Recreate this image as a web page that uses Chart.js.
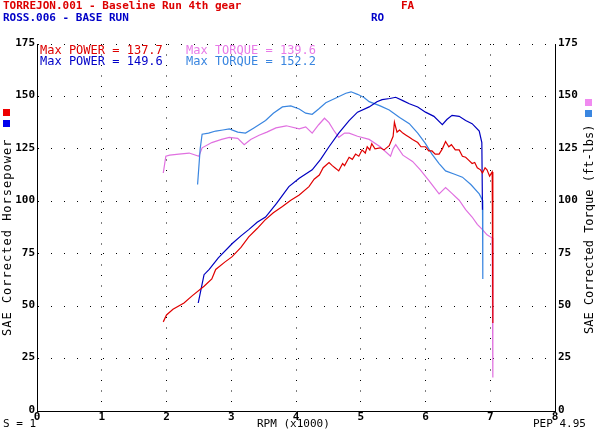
<!DOCTYPE html>
<html>
<head>
<meta charset="utf-8">
<script src="https://cdn.jsdelivr.net/npm/chart.js@4.4.1/dist/chart.umd.min.js"></script>
<style>
body{margin:0;background:#fff;}
#marco{position:relative;width:595px;height:435px;}
#grafica{position:absolute;left:0;top:0;}
.txt{position:absolute;font-family:"DejaVu Sans Mono",monospace;white-space:nowrap;line-height:12px;}
.b{font-weight:bold;}
.cuadro{position:absolute;width:7px;height:7px;}
.rot{position:absolute;transform-origin:0 0;transform:rotate(-90deg);font-family:"DejaVu Sans Mono",monospace;font-size:12px;line-height:12px;white-space:nowrap;}
</style>
</head>
<body>
<div id="marco">
<canvas id="grafica" width="595" height="435"></canvas>

<div class="txt b" style="left:3px;top:0px;font-size:11px;color:#dd0000">TORREJON.001 - Baseline Run 4th gear</div>
<div class="txt b" style="left:3px;top:12px;font-size:11px;color:#0000c8">ROSS.006 - BASE RUN</div>
<div class="txt b" style="left:401px;top:0px;font-size:11px;color:#dd0000">FA</div>
<div class="txt b" style="left:371px;top:12px;font-size:11px;color:#0000c8">RO</div>

<div class="txt" style="left:40px;top:44px;font-size:12px;color:#dd0000">Max POWER = 137.7</div>
<div class="txt" style="left:40px;top:55px;font-size:12px;color:#0000c8">Max POWER = 149.6</div>
<div class="txt" style="left:186px;top:44px;font-size:12px;color:#e87ae8">Max TORQUE = 139.6</div>
<div class="txt" style="left:186px;top:55px;font-size:12px;color:#3a86e0">Max TORQUE = 152.2</div>

<div class="cuadro" style="left:3px;top:109px;background:#ee0000"></div>
<div class="cuadro" style="left:3px;top:120px;background:#0000ee"></div>
<div class="cuadro" style="left:585px;top:99px;background:#f08af0"></div>
<div class="cuadro" style="left:585px;top:110px;background:#3a86e0"></div>

<div class="rot" style="left:1px;top:336px;letter-spacing:1px">SAE Corrected Horsepower</div>
<div class="rot" style="left:583px;top:334px;">SAE Corrected Torque (ft-lbs)</div>

<div class="txt" style="left:3px;top:418px;font-size:11px">S = 1</div>
<div class="txt" style="left:257px;top:418px;font-size:11px">RPM (x1000)</div>
<div class="txt" style="left:533px;top:418px;font-size:11px">PEP 4.95</div>
</div>

<script>
//DATOS TORREJON.001 (rojo / rosa)
var rpmPotenciaT = [1.95,2.0,2.1,2.27,2.4,2.58,2.7,2.76,2.9,3.01,3.15,3.27,3.4,3.52,3.65,3.79,3.92,4.05,4.2,4.28,4.36,4.42,4.51,4.56,4.6,4.66,4.72,4.75,4.82,4.87,4.92,4.97,5.02,5.07,5.1,5.14,5.17,5.22,5.3,5.36,5.44,5.5,5.52,5.56,5.6,5.65,5.7,5.75,5.8,5.88,5.93,6.0,6.05,6.1,6.15,6.21,6.26,6.31,6.36,6.4,6.46,6.52,6.57,6.62,6.67,6.72,6.76,6.8,6.85,6.88,6.92,6.95,6.99,7.03,7.04];
var hpPotenciaT = [42.5,45.8,48.5,51.5,55,59.5,63,67.5,71,73.5,78,83,87,91,94.5,97.5,100.5,103,107,110.5,112.5,116,118.5,117,116,114.5,118,117,121,120,122.5,121.5,124.5,123,126,124.5,127.5,125,125.5,124.5,126.5,131,137.7,133,134,132.5,131.5,130.5,129.5,128,126,126,124,124,122.5,122.5,125,128.5,126,127,124.5,124.5,121.5,121,119.5,118,118.5,116,115,113.5,116,115,112,114,42];
var rpmTorqueT = [1.95,1.99,2.05,2.19,2.35,2.5,2.55,2.7,2.85,2.97,3.1,3.2,3.3,3.43,3.55,3.69,3.85,4.05,4.15,4.25,4.35,4.44,4.51,4.58,4.66,4.75,4.82,4.95,5.13,5.3,5.46,5.5,5.54,5.65,5.8,5.92,6.05,6.21,6.31,6.4,6.52,6.62,6.72,6.8,6.88,6.95,7.03,7.04];
var lbTorqueT = [113.5,121.5,122,122.5,123,121.5,125.5,128,129.5,130.5,130,127,129.5,131.5,133,135,136,134.5,135.5,132.5,136.5,139.6,137.5,134,130.5,132.5,132.5,131,129.5,126,121.5,125,127,122,119,115,110,103.5,106.5,104,100.5,96,92.5,89,86.5,84,82.5,16];

//DATOS ROSS.006 (azul / celeste)
var rpmPotenciaR = [2.49,2.53,2.58,2.66,2.8,3.02,3.15,3.27,3.4,3.53,3.7,3.89,4.05,4.25,4.38,4.51,4.66,4.82,4.95,5.13,5.25,5.33,5.45,5.54,5.65,5.75,5.88,6.0,6.13,6.26,6.33,6.41,6.52,6.62,6.72,6.83,6.87,6.88];
var hpPotenciaR = [51.5,57.5,65,67.5,73,80,83.5,86.5,90,92.5,99,107,111,115,120,126,132.5,138.5,142.5,145,147.5,148.5,149,149.6,148,146.5,145,142.5,140.5,136.5,139,141,140.5,138.5,137,133.5,128,96];
var rpmTorqueR = [2.48,2.52,2.55,2.65,2.76,2.87,2.97,3.1,3.22,3.35,3.53,3.65,3.79,3.92,4.05,4.15,4.25,4.35,4.46,4.6,4.77,4.85,4.95,5.05,5.13,5.3,5.44,5.6,5.75,5.88,6.0,6.1,6.21,6.31,6.44,6.57,6.7,6.83,6.88,6.885];
var lbTorqueR = [108,125,132,132.5,133.5,134,134.5,133,132.5,135,138.5,142,145,145.5,144,142,141.5,144,147,149,151.5,152.2,151,149.5,147.5,145.5,143.5,140,137,132.5,127.5,122.5,118,114.5,113,111.5,108,103.5,100.5,63];

var ticksY = [0,25,50,75,100,125,150,175];
var ticksX = [0,1,2,3,4,5,6,7,8];

function juntar(xs, ys){
    var puntos = [];
    for (var i = 0; i < xs.length; i++) {
        puntos.push({x: xs[i], y: ys[i]});
    }
    return puntos;
}

function serie(nombre, xs, ys, color, eje){
    return {
        label: nombre,
        data: juntar(xs, ys),
        borderColor: color,
        borderWidth: 1.2,
        pointRadius: 0,
        showLine: true,
        tension: 0,
        yAxisID: eje
    };
}

var fuenteTicks = {family: 'DejaVu Sans Mono', size: 11, weight: 'bold'};

var ctx = document.getElementById('grafica').getContext('2d');
var config = {
    type: 'scatter',
    data: {
        datasets: [
            serie('TORREJON power', rpmPotenciaT, hpPotenciaT, '#e00000', 'y'),
            serie('ROSS power', rpmPotenciaR, hpPotenciaR, '#0000c0', 'y'),
            serie('ROSS torque', rpmTorqueR, lbTorqueR, '#3a86e0', 'y1'),
            serie('TORREJON torque', rpmTorqueT, lbTorqueT, '#e070e0', 'y1')
        ]
    },
    options: {
        responsive: false,
        animation: false,
        layout: {padding: {top: 44, left: 0, right: 0, bottom: 0}},
        plugins: {legend: {display: false}, tooltip: {enabled: false}},
        scales: {
            x: {
                type: 'linear', min: 0, max: 8,
                afterBuildTicks: function(s){ s.ticks = ticksX.map(function(v){ return {value: v}; }); },
                afterFit: function(s){ s.height = 24; },
                grid: {color: '#000', lineWidth: 1, drawTicks: false},
                border: {color: '#000', width: 1, dash: [1, 9.5]},
                ticks: {color: '#000', font: fuenteTicks, padding: 0}
            },
            y: {
                type: 'linear', position: 'left', min: 0, max: 175,
                afterBuildTicks: function(s){ s.ticks = ticksY.map(function(v){ return {value: v}; }); },
                afterFit: function(s){ s.width = 37; },
                grid: {color: '#000', lineWidth: 1, drawTicks: false},
                border: {color: '#000', width: 1, dash: [1, 12]},
                ticks: {color: '#000', font: fuenteTicks, padding: 2, labelOffset: -1}
            },
            y1: {
                type: 'linear', position: 'right', min: 0, max: 175,
                afterBuildTicks: function(s){ s.ticks = ticksY.map(function(v){ return {value: v}; }); },
                afterFit: function(s){ s.width = 40; },
                grid: {display: false, drawTicks: false},
                border: {color: '#000', width: 1},
                ticks: {color: '#000', font: fuenteTicks, padding: 3, labelOffset: -1}
            }
        }
    }
};
var grafica = new Chart(ctx, config);
</script>
</body>
</html>
